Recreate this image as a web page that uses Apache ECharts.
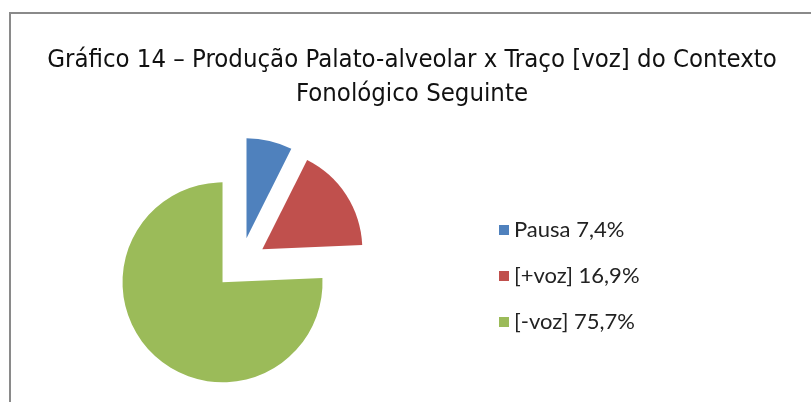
<!DOCTYPE html>
<html>
<head>
<meta charset="utf-8">
<script src="https://cdn.jsdelivr.net/npm/echarts@6/dist/echarts.min.js"></script>
<style>
  html, body { margin: 0; padding: 0; background: #fff; }
  #chart { width: 811px; height: 402px; }
</style>
</head>
<body>
<div id="chart"></div>
<script>
const titleText = 'Gráfico 14 – Produção Palato-alveolar x Traço [voz] do Contexto\nFonológico Seguinte';
const categories = ['Pausa', '[+voz]', '[-voz]'];
const percents = [7.4, 16.9, 75.7];
const colors = ['#4F81BD', '#C0504D', '#9BBB59'];

let myChart = echarts.init(document.getElementById('chart'));
let option = {
    animation: false,
    title: {
        text: titleText,
        left: 412,
        top: 43,
        padding: 0,
        textAlign: 'center',
        textStyle: {
            fontFamily: '"DejaVu Sans Condensed", sans-serif',
            fontWeight: 'normal',
            fontSize: 25.5,
            lineHeight: 34,
            color: '#111'
        }
    },
    legend: {
        orient: 'vertical',
        left: 494,
        top: 214,
        icon: 'rect',
        itemWidth: 10,
        itemHeight: 10,
        itemGap: 24,
        selectedMode: false,
        data: categories,
        formatter: function (name) {
            let i = categories.indexOf(name);
            return name + ' ' + percents[i].toFixed(1).replace('.', ',') + '%';
        },
        textStyle: {
            fontFamily: 'Lato, sans-serif',
            fontSize: 22,
            lineHeight: 22,
            color: '#222'
        }
    },
    graphic: [{
        type: 'rect',
        shape: { x: 10, y: 13, width: 830, height: 420 },
        style: { fill: 'none', stroke: '#8a8a8a', lineWidth: 2 },
        silent: true
    }],
    series: [{
        type: 'pie',
        center: [240.5, 263.5],
        radius: 100,
        startAngle: 90,
        selectedMode: 'multiple',
        selectedOffset: 26,
        label: { show: false },
        labelLine: { show: false },
        emphasis: { disabled: true },
        data: categories.map((c, i) => ({
            name: c,
            value: percents[i],
            selected: true,
            itemStyle: { color: colors[i] }
        }))
    }]
};

option && myChart.setOption(option);
</script>
</body>
</html>
